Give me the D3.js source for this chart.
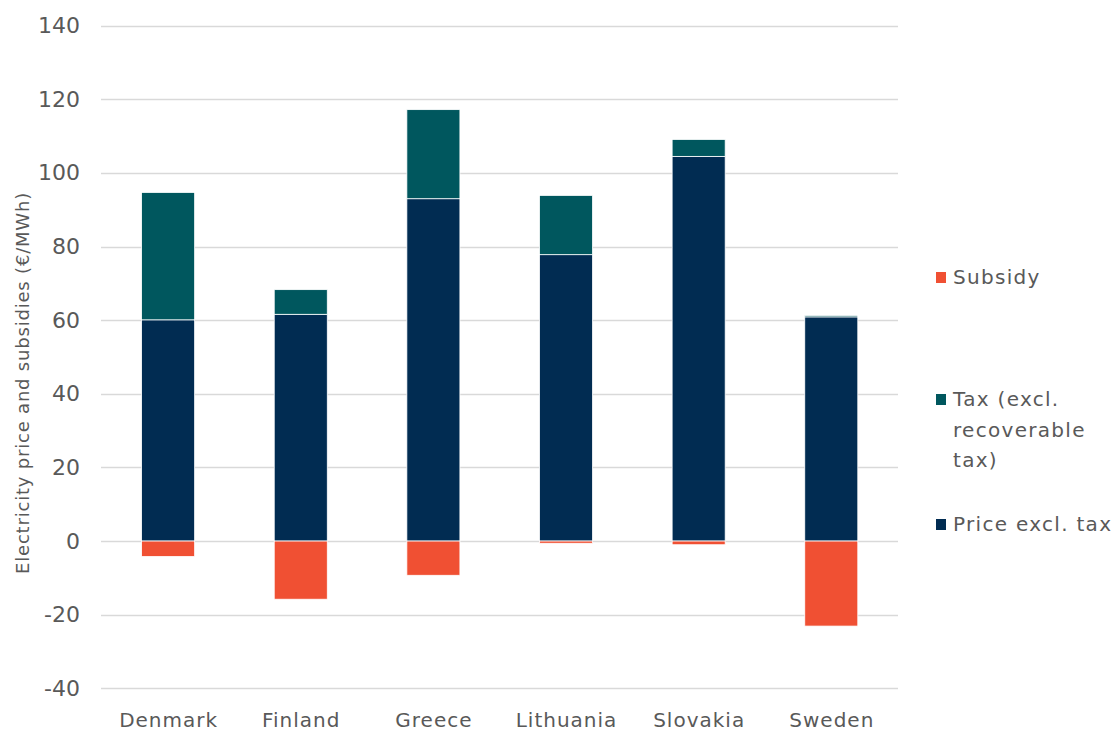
<!DOCTYPE html>
<html>
<head>
<meta charset="utf-8">
<script src="https://cdn.jsdelivr.net/npm/d3@7"></script>
<style>
  html, body { margin: 0; padding: 0; background: #ffffff; }
  svg { display: block; }
  text { font-family: "DejaVu Sans", sans-serif; fill: #595959; }
</style>
</head>
<body>
<svg id="chart" width="1118" height="731"></svg>
<script>
// Countries on the horizontal axis
const countries = ["Denmark", "Finland", "Greece", "Lithuania", "Slovakia", "Sweden"];
// Price excluding tax (€/MWh)
const priceExclTax = [60.1, 61.6, 93.0, 77.8, 104.5, 60.9];
// Tax excluding recoverable tax (€/MWh)
const taxValues = [34.6, 6.7, 24.2, 16.1, 4.6, 0.4];
// Subsidies (€/MWh, negative)
const subsidyValues = [-4.2, -15.8, -9.3, -0.6, -1.0, -23.1];
// Y axis ticks
const yTicks = [-40, -20, 0, 20, 40, 60, 80, 100, 120, 140];

const colors = { price: "#012C52", tax: "#00575E", subsidy: "#F05033" };
const FONT = "'DejaVu Sans', sans-serif";
const FONT_COND = "'DejaVu Sans Condensed', 'DejaVu Sans', sans-serif";

const svg = d3.select("#chart");

const x = d3.scaleBand()
  .domain(countries)
  .range([101.8, 897.6])
  .paddingInner(0.6)
  .paddingOuter(0.3);

const y = d3.scaleLinear()
  .domain([-40, 140])
  .range([688.3, 25.7]);

// Gridlines
svg.append("g")
  .selectAll("line")
  .data(yTicks)
  .join("line")
  .attr("x1", 101)
  .attr("x2", 898)
  .attr("y1", d => Math.round(y(d)) + 0.5)
  .attr("y2", d => Math.round(y(d)) + 0.5)
  .attr("stroke", "#d9d9d9")
  .attr("stroke-width", 1.3);

// Y axis labels (plain hyphen for negatives)
const yAxis = d3.axisLeft(y).tickValues(yTicks).tickFormat(d => String(d)).tickSize(0).tickPadding(0);
const yg = svg.append("g").attr("transform", "translate(80,0)").call(yAxis);
yg.select(".domain").remove();
yg.selectAll("text")
  .attr("font-size", 22)
  .attr("font-family", FONT_COND)
  .attr("fill", "#595959");

// X axis labels
const xAxis = d3.axisBottom(x).tickSize(0).tickPadding(0);
const xg = svg.append("g").attr("transform", "translate(0,727)").call(xAxis);
xg.select(".domain").remove();
xg.selectAll("text")
  .attr("y", 0)
  .attr("dy", 0)
  .attr("dx", 0.5)
  .attr("font-size", 20)
  .attr("letter-spacing", 1)
  .attr("font-family", FONT)
  .attr("fill", "#595959");

// Stacked bars
const rows = countries.map((c, i) => ({
  country: c,
  price: priceExclTax[i],
  tax: taxValues[i],
  subsidy: subsidyValues[i]
}));

const bars = svg.append("g").attr("stroke", "#ffffff").attr("stroke-width", 0.8);

bars.selectAll("rect.price")
  .data(rows)
  .join("rect")
  .attr("class", "price")
  .attr("x", d => x(d.country))
  .attr("width", x.bandwidth())
  .attr("y", d => y(d.price))
  .attr("height", d => y(0) - y(d.price))
  .attr("fill", colors.price);

bars.selectAll("rect.tax")
  .data(rows)
  .join("rect")
  .attr("class", "tax")
  .attr("x", d => x(d.country))
  .attr("width", x.bandwidth())
  .attr("y", d => y(d.price + d.tax))
  .attr("height", d => y(d.price) - y(d.price + d.tax))
  .attr("fill", colors.tax);

bars.selectAll("rect.subsidy")
  .data(rows)
  .join("rect")
  .attr("class", "subsidy")
  .attr("x", d => x(d.country))
  .attr("width", x.bandwidth())
  .attr("y", y(0))
  .attr("height", d => y(d.subsidy) - y(0))
  .attr("fill", colors.subsidy);

// Y axis title
svg.append("text")
  .attr("transform", "translate(29,383) rotate(-90)")
  .attr("text-anchor", "middle")
  .attr("font-size", 18)
  .attr("letter-spacing", 0.8)
  .attr("font-family", FONT)
  .text("Electricity price and subsidies (€/MWh)");

// Legend
const legendItems = [
  { label: ["Subsidy"], color: colors.subsidy, y: 277 },
  { label: ["Tax (excl.", "recoverable", "tax)"], color: colors.tax, y: 399 },
  { label: ["Price excl. tax"], color: colors.price, y: 524 }
];
const lg = svg.append("g");
legendItems.forEach(item => {
  lg.append("rect")
    .attr("x", 936)
    .attr("y", item.y - 5)
    .attr("width", 10)
    .attr("height", 11)
    .attr("fill", item.color);
  const t = lg.append("text")
    .attr("x", 953)
    .attr("y", item.y)
    .attr("font-size", 20)
    .attr("letter-spacing", 1.3)
    .attr("font-family", FONT);
  item.label.forEach((line, j) => {
    t.append("tspan")
      .attr("x", 953)
      .attr("dy", j === 0 ? "0.36em" : 30.5)
      .text(line);
  });
});
</script>
</body>
</html>
